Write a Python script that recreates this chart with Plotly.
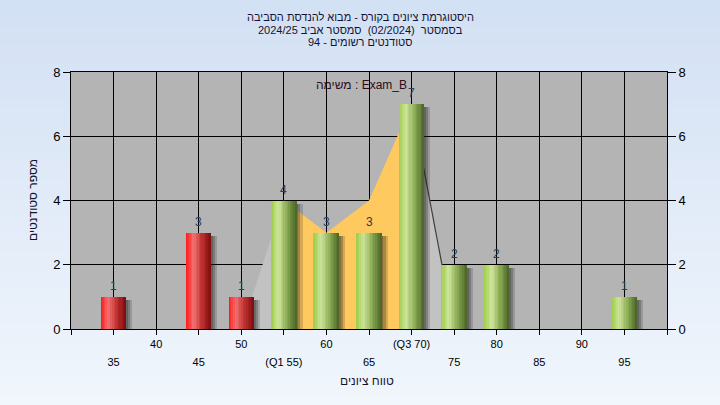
import plotly.graph_objects as go

# ---------------- data ----------------
categories = [35, 40, 45, 50, 55, 60, 65, 70, 75, 80, 85, 90, 95]
counts = [1, 0, 3, 1, 4, 3, 3, 7, 2, 2, 0, 0, 1]
pass_mark = 55

row1_ticks = [40, 50, 60, 70, 80, 90]
row1_labels = ["40", "50", "60", "(Q3 70)", "80", "90"]
row2_ticks = [35, 45, 55, 65, 75, 85, 95]
row2_labels = ["35", "45", "(Q1 55)", "65", "75", "85", "95"]

iqr_x = [55, 60, 65, 70]
iqr_y = [4, 3, 4, 7]
left_tail_x = [50, 55]
left_tail_y = [0, 4]
right_tail_x = [70, 75]
right_tail_y = [7, 0]

y_ticks = [0, 2, 4, 6, 8]

title_lines = [
    "היסטוגרמת ציונים בקורס - מבוא להנדסת הסביבה",
    "בסמסטר  (02/2024)  סמסטר אביב 2024/25",
    "סטודנטים רשומים - 94",
]
task_label = "משימה : Exam_B"
x_title = "טווח ציונים"
y_title = "מספר סטודנטים"

# ---------------- geometry helpers ----------------
W, H = 720, 405
L, R, T, B = 71, 53, 72, 76
PW, PH = W - L - R, H - T - B


def px_x(px):
    return (px - L) / PW


def px_y(py):
    return (H - B - py) / PH


def hex2rgb(h):
    h = h.lstrip('#')
    return tuple(int(h[i:i + 2], 16) for i in (0, 2, 4))


def interp(stops, t):
    for (t0, c0), (t1, c1) in zip(stops[:-1], stops[1:]):
        if t0 <= t <= t1:
            a = (t - t0) / (t1 - t0) if t1 > t0 else 0
            r0, g0, b0 = hex2rgb(c0)
            r1, g1, b1 = hex2rgb(c1)
            return "rgb(%d,%d,%d)" % (r0 + (r1 - r0) * a, g0 + (g1 - g0) * a, b0 + (b1 - b0) * a)
    return stops[-1][1]


FONT = "Liberation Sans, Arial, DejaVu Sans, sans-serif"
fig = go.Figure()

# ---------------- distribution area (main subplot, drawn first) ----------------
fig.add_trace(go.Scatter(x=left_tail_x + [left_tail_x[-1]], y=left_tail_y + [0],
                         fill="toself", fillcolor="#c2c2c2", mode="none",
                         hoverinfo="skip", showlegend=False))
fig.add_trace(go.Scatter(x=[right_tail_x[0]] + right_tail_x, y=[0] + right_tail_y,
                         fill="toself", fillcolor="#c2c2c2", mode="none",
                         hoverinfo="skip", showlegend=False))
fig.add_trace(go.Scatter(x=[iqr_x[0]] + iqr_x + [iqr_x[-1]], y=[0] + iqr_y + [0],
                         fill="toself", fillcolor="#fec95e", mode="none",
                         hoverinfo="skip", showlegend=False))
fig.add_trace(go.Scatter(x=right_tail_x, y=right_tail_y, mode="lines",
                         line=dict(color="#404040", width=1.2),
                         hoverinfo="skip", showlegend=False))

# ---------------- bars (overlaying subplot, drawn on top) ----------------
BW = 3.0
NS = 16
red_stops = [(0, "#ff1414"), (0.3, "#f27272"), (0.6, "#c53434"), (1.0, "#7c0c0c")]
green_stops = [(0, "#9fcd48"), (0.3, "#cde59c"), (0.6, "#91b15a"), (1.0, "#4a6524")]

nz_x = [c for c, v in zip(categories, counts) if v > 0]
nz_y = [v for v in counts if v > 0]

# soft shadows
for off, alpha in [(0.2, 0.25), (0.45, 0.25), (0.7, 0.18)]:
    fig.add_trace(go.Bar(x=nz_x, y=[v - 0.1 for v in nz_y], width=BW, offset=-BW / 2 + off,
                         xaxis="x2", yaxis="y2",
                         marker=dict(color="rgba(30,30,30,%.2f)" % alpha, line=dict(width=0)),
                         hoverinfo="skip", showlegend=False))

for is_red, stops in [(True, red_stops), (False, green_stops)]:
    xs = [c for c, v in zip(categories, counts) if v > 0 and (c < pass_mark) == is_red]
    ys = [v for c, v in zip(categories, counts) if v > 0 and (c < pass_mark) == is_red]
    for i in range(NS):
        t = (i + 0.5) / NS
        w = BW / NS * (1.25 if i < NS - 1 else 1.0)
        fig.add_trace(go.Bar(x=xs, y=ys, width=w, offset=-BW / 2 + i * BW / NS,
                             xaxis="x2", yaxis="y2",
                             marker=dict(color=interp(stops, t), line=dict(width=0)),
                             hoverinfo="skip", showlegend=False))

# ---------------- background shapes ----------------
shapes = []
NSTRIPE = 45
top_c, bot_c = hex2rgb("#d3e1f4"), hex2rgb("#f1f6fd")
for i in range(NSTRIPE):
    a = i / (NSTRIPE - 1)
    col = "rgb(%d,%d,%d)" % tuple(top_c[k] + (bot_c[k] - top_c[k]) * a for k in range(3))
    y0p = i * H / NSTRIPE
    y1p = (i + 1) * H / NSTRIPE + 1
    shapes.append(dict(type="rect", xref="paper", yref="paper", layer="below",
                       x0=px_x(0), x1=px_x(W), y0=px_y(y1p), y1=px_y(y0p),
                       fillcolor=col, line=dict(width=0)))
shapes.append(dict(type="rect", xref="paper", yref="paper", layer="below",
                   x0=0, x1=1, y0=0, y1=1, fillcolor="#b4b4b4", line=dict(width=0)))

# ---------------- annotations ----------------
ann = []
for py, line in zip([17, 30, 42], title_lines):
    ann.append(dict(text=line, xref="paper", yref="paper", x=px_x(360), y=px_y(py),
                    xanchor="center", yanchor="middle", showarrow=False,
                    font=dict(family=FONT, size=11, color="#141432")))
ann.append(dict(text=task_label, xref="paper", yref="paper", x=px_x(361), y=px_y(85),
                xanchor="center", yanchor="middle", showarrow=False,
                font=dict(family=FONT, size=12, color="#2a0d1c")))
ann.append(dict(text=x_title, xref="paper", yref="paper", x=px_x(367), y=px_y(381),
                xanchor="center", yanchor="middle", showarrow=False,
                font=dict(family=FONT, size=12, color="#141432")))
ann.append(dict(text=y_title, xref="paper", yref="paper", x=px_x(33), y=px_y(200),
                xanchor="center", yanchor="middle", showarrow=False, textangle=-90,
                font=dict(family=FONT, size=12, color="#141432")))
# value labels above bars
for xv, yv in zip(nz_x, nz_y):
    ann.append(dict(text=str(yv), xref="x2", yref="y2", x=xv, y=yv, yshift=11,
                    xanchor="center", yanchor="middle", showarrow=False,
                    font=dict(family=FONT, size=12, color="#2c3c52")))

# ---------------- axes ----------------
all_ticks = list(range(30, 101, 5))
row1_map = dict(zip(row1_ticks, row1_labels))
xtext = [row1_map.get(v, "") for v in all_ticks]

fig.update_layout(
    width=W, height=H,
    margin=dict(l=L, r=R, t=T, b=B, pad=0),
    paper_bgcolor="#e3ecf8",
    plot_bgcolor="rgba(0,0,0,0)",
    barmode="overlay",
    bargap=0,
    showlegend=False,
    hovermode=False,
    shapes=shapes,
    annotations=ann,
    font=dict(family=FONT, color="#000000"),
    xaxis=dict(range=[30, 100], tickmode="array", tickvals=all_ticks, ticktext=xtext,
               ticks="outside", ticklen=5, tickcolor="#000000", tickwidth=1,
               showgrid=True, gridcolor="#000000", gridwidth=1,
               showline=True, linecolor="#000000", linewidth=1, mirror=True,
               zeroline=False, tickfont=dict(size=11, color="#000000"), fixedrange=True),
    xaxis2=dict(range=[30, 100], overlaying="x", side="bottom", anchor="y2",
                tickmode="array", tickvals=row2_ticks, ticktext=row2_labels,
                ticks="", showgrid=False, showline=False, zeroline=False,
                ticklabelstandoff=25,
                tickfont=dict(size=11, color="#000000"), fixedrange=True),
    yaxis=dict(range=[0, 8], tickmode="array", tickvals=y_ticks,
               ticks="outside", ticklen=7, tickcolor="#000000",
               showgrid=True, gridcolor="#000000", gridwidth=1,
               showline=True, linecolor="#000000", linewidth=1, mirror=True,
               zeroline=False, tickfont=dict(size=13, color="#000000"), fixedrange=True),
    yaxis2=dict(range=[0, 8], overlaying="y", side="right", anchor="x2",
                tickmode="array", tickvals=y_ticks,
                ticks="outside", ticklen=8, tickcolor="#000000",
                showgrid=False, showline=False, zeroline=False,
                tickfont=dict(size=13, color="#000000"), fixedrange=True),
)

fig.write_html("out.html", config={"displayModeBar": False},
               post_script="document.body.style.margin='0';document.body.style.padding='0';")
